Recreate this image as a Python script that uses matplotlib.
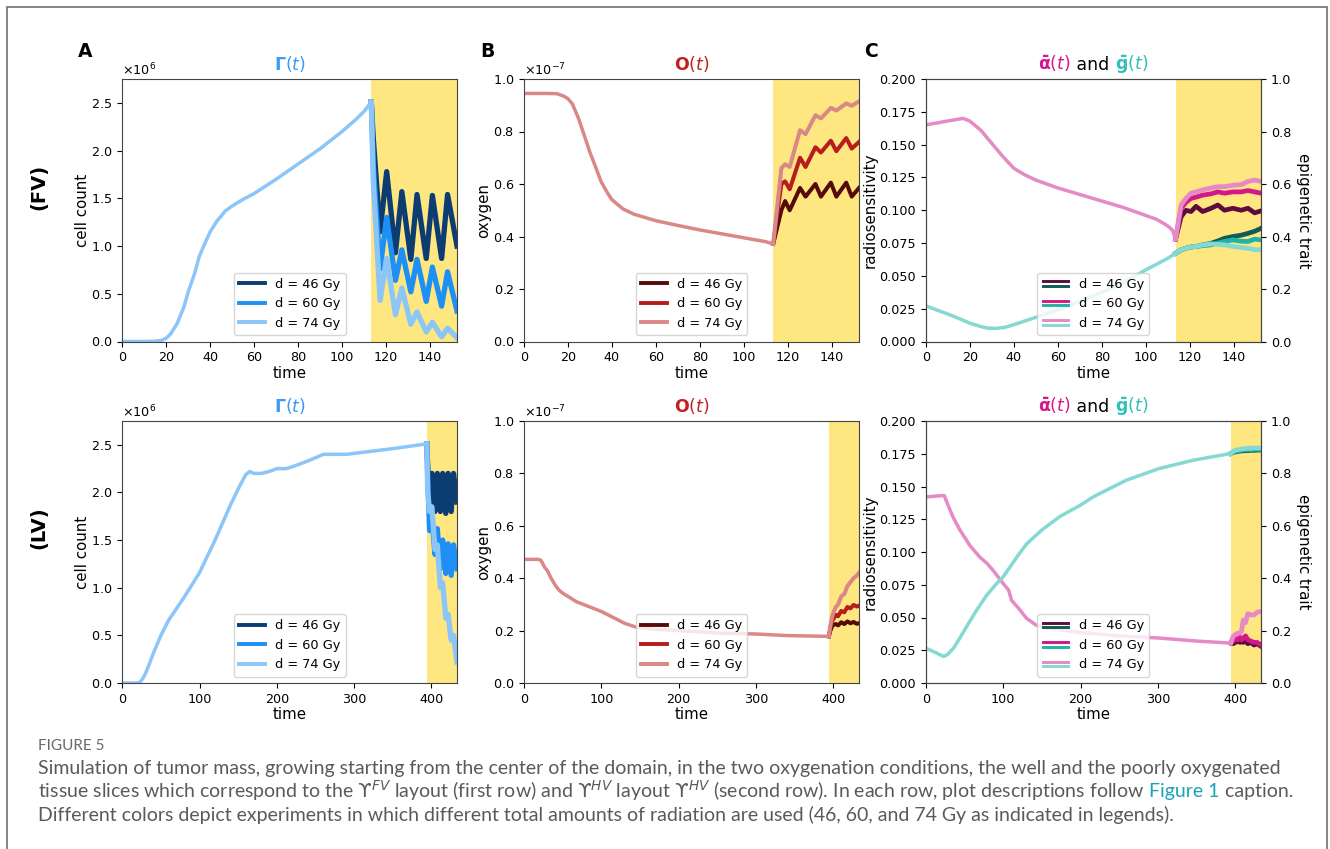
import numpy as np
import matplotlib
matplotlib.use('Agg')
import matplotlib.pyplot as plt
from matplotlib.lines import Line2D
from matplotlib.patches import Rectangle
from matplotlib.legend_handler import HandlerBase

# ---- data ----
DOSE_LABELS = ['d = 46 Gy', 'd = 60 Gy', 'd = 74 Gy']

# row 1 (FV): tumour cell count, x 1e6
FV_T_PRE = [0, 10, 15, 18, 20, 22, 25, 28, 30, 33, 35, 38, 40, 43, 47, 50, 55, 60,
            70, 80, 90, 100, 106, 110, 113.3]
FV_GAMMA_PRE = [0, 0, 0.003, 0.012, 0.035, 0.08, 0.19, 0.36, 0.52, 0.72, 0.89, 1.05,
                1.15, 1.26, 1.37, 1.42, 1.49, 1.55, 1.70, 1.86, 2.02, 2.20, 2.32, 2.41, 2.51]
FV_GAMMA_T = [113.3, 114.2, 117.3, 120.3, 124.3, 127.2, 131.3, 134.1, 138.3, 141.1,
              145.3, 148.0, 152.3]
FV_GAMMA_46 = [2.51, 2.13, 1.15, 1.78, 0.93, 1.57, 0.86, 1.54, 0.87, 1.53, 0.87, 1.54, 1.00]
FV_GAMMA_60 = [2.51, 1.85, 0.76, 1.30, 0.64, 0.96, 0.52, 0.86, 0.42, 0.78, 0.37, 0.73, 0.32]
FV_GAMMA_74 = [2.51, 1.68, 0.43, 0.87, 0.28, 0.56, 0.18, 0.31, 0.10, 0.20, 0.05, 0.14, 0.04]

# row 1 (FV): oxygen, x 1e-7
FV_OX_T_PRE = [0, 10, 15, 18, 20, 22, 25, 28, 30, 33, 35, 38, 40, 45, 50, 60, 70, 80,
               90, 100, 110, 113.3]
FV_OX_PRE = [0.945, 0.945, 0.944, 0.935, 0.925, 0.905, 0.845, 0.77, 0.72, 0.655, 0.61,
             0.565, 0.54, 0.505, 0.485, 0.46, 0.442, 0.425, 0.41, 0.395, 0.38, 0.372]
FV_OX_T = [113.3, 117.0, 118.7, 120.8, 125.5, 128.0, 132.5, 135.0, 139.5, 142.0,
           146.5, 149.0, 152.3]
FV_OX_46 = [0.372, 0.50, 0.535, 0.50, 0.585, 0.552, 0.60, 0.552, 0.605, 0.552, 0.605, 0.552, 0.585]
FV_OX_60 = [0.372, 0.60, 0.61, 0.58, 0.70, 0.665, 0.74, 0.72, 0.765, 0.725, 0.775, 0.735, 0.76]
FV_OX_74 = [0.372, 0.66, 0.675, 0.665, 0.805, 0.79, 0.862, 0.85, 0.89, 0.88, 0.907, 0.898, 0.915]

# row 1 (FV): mean radiosensitivity and epigenetic trait
FV_AL_T_PRE = [0, 5, 10, 17, 20, 25, 30, 35, 40, 45, 50, 60, 70, 80, 90, 100, 105,
               110, 112, 113.5]
FV_AL_PRE = [0.165, 0.1665, 0.168, 0.170, 0.168, 0.161, 0.151, 0.141, 0.132, 0.127,
             0.123, 0.117, 0.112, 0.107, 0.102, 0.096, 0.093, 0.088, 0.085, 0.078]
FV_G_T_PRE = [0, 5, 10, 15, 20, 25, 28, 32, 36, 40, 50, 60, 70, 80, 90, 100, 110, 113.5]
FV_G_PRE = [0.136, 0.12, 0.105, 0.088, 0.07, 0.057, 0.051, 0.05, 0.054, 0.064, 0.092,
            0.121, 0.152, 0.188, 0.226, 0.273, 0.317, 0.336]
FV_C_T = [113.5, 116.0, 118.2, 120.5, 122.8, 125.8, 129.6, 132.7, 135.7, 139.5, 143.3,
          146.4, 149.4, 152.3]
FV_AL_46 = [0.078, 0.095, 0.100, 0.099, 0.103, 0.099, 0.1015, 0.104, 0.100, 0.1015,
            0.100, 0.1015, 0.098, 0.0995]
FV_AL_60 = [0.078, 0.1015, 0.106, 0.109, 0.110, 0.1115, 0.1125, 0.114, 0.113, 0.114,
            0.114, 0.115, 0.114, 0.113]
FV_AL_74 = [0.078, 0.104, 0.109, 0.113, 0.114, 0.1155, 0.117, 0.118, 0.118, 0.119,
            0.1195, 0.122, 0.123, 0.122]
FV_G_46 = [0.336, 0.349, 0.355, 0.36, 0.362, 0.368, 0.374, 0.383, 0.393, 0.40, 0.405,
           0.412, 0.42, 0.431]
FV_G_60 = [0.336, 0.349, 0.355, 0.36, 0.362, 0.365, 0.368, 0.375, 0.381, 0.387, 0.382,
           0.381, 0.39, 0.387]
FV_G_74 = [0.336, 0.349, 0.355, 0.36, 0.362, 0.368, 0.372, 0.37, 0.368, 0.362, 0.358,
           0.355, 0.35, 0.349]

# row 2 (LV): tumour cell count, x 1e6
LV_T_PRE = [0, 20, 23, 26, 30, 35, 40, 50, 60, 80, 100, 120, 140, 152, 160, 165, 170,
            180, 190, 200, 212, 220, 240, 260, 270, 290, 300, 350, 394]
LV_GAMMA_PRE = [0, 0, 0.01, 0.04, 0.1, 0.2, 0.31, 0.5, 0.66, 0.9, 1.16, 1.5, 1.87, 2.07,
                2.19, 2.22, 2.2, 2.2, 2.22, 2.25, 2.25, 2.27, 2.33, 2.40, 2.40, 2.40,
                2.41, 2.46, 2.51]
LV_GAMMA_T = [394, 395, 397.5, 400.5, 404.5, 407.5, 411.5, 414.5, 418.5, 421.5, 425.5,
              428.5, 433]
LV_GAMMA_46 = [2.51, 2.30, 1.85, 2.20, 1.80, 2.20, 1.80, 2.20, 1.78, 2.20, 1.80, 2.20, 1.90]
LV_GAMMA_60 = [2.51, 2.20, 1.60, 1.75, 1.35, 1.62, 1.20, 1.50, 1.15, 1.46, 1.13, 1.45, 1.20]
LV_GAMMA_74 = [2.51, 2.00, 1.80, 1.85, 1.40, 1.45, 1.00, 1.05, 0.68, 0.72, 0.45, 0.50, 0.22]

# row 2 (LV): oxygen, x 1e-7
LV_OX_T_PRE = [0, 18, 22, 27, 30, 35, 40, 45, 50, 68, 100, 130, 145, 171, 200, 253,
               300, 340, 394]
LV_OX_PRE = [0.472, 0.472, 0.468, 0.44, 0.43, 0.40, 0.375, 0.355, 0.343, 0.31, 0.273,
             0.228, 0.213, 0.205, 0.2, 0.19, 0.187, 0.181, 0.178]
LV_OX_T = [394, 396, 398, 400, 403, 406, 410, 414, 418, 422, 426, 430, 433]
LV_OX_46 = [0.178, 0.20, 0.215, 0.222, 0.225, 0.22, 0.232, 0.225, 0.235, 0.228, 0.233,
            0.226, 0.228]
LV_OX_60 = [0.178, 0.21, 0.235, 0.245, 0.26, 0.255, 0.275, 0.27, 0.29, 0.285, 0.298,
            0.292, 0.295]
LV_OX_74 = [0.178, 0.22, 0.25, 0.27, 0.29, 0.30, 0.33, 0.34, 0.37, 0.385, 0.40, 0.41, 0.42]

# row 2 (LV): mean radiosensitivity and epigenetic trait
LV_AL_T_PRE = [0, 20, 24, 28, 35, 44, 57, 70, 79, 87, 100, 107, 108.5, 111, 120, 130,
               143, 156, 199, 250, 302, 350, 394]
LV_AL_PRE = [0.142, 0.143, 0.143, 0.137, 0.127, 0.117, 0.105, 0.096, 0.0914, 0.086,
             0.076, 0.071, 0.068, 0.063, 0.057, 0.0495, 0.044, 0.042, 0.0386, 0.036,
             0.0343, 0.032, 0.0305]
LV_G_T_PRE = [0, 10, 23, 28, 36, 44, 53, 66, 79, 92, 100, 120, 130, 150, 173, 200, 216,
              259, 302, 345, 394]
LV_G_PRE = [0.133, 0.12, 0.1015, 0.108, 0.133, 0.171, 0.216, 0.279, 0.336, 0.381, 0.405,
            0.49, 0.53, 0.584, 0.635, 0.679, 0.71, 0.774, 0.819, 0.85, 0.876]
LV_C_T = [394, 397, 400, 403, 406, 408, 410, 413, 416, 420, 424, 428, 433]
LV_AL_46 = [0.0305, 0.030, 0.031, 0.032, 0.031, 0.033, 0.031, 0.032, 0.030, 0.031,
            0.029, 0.030, 0.028]
LV_AL_60 = [0.0305, 0.032, 0.034, 0.033, 0.035, 0.033, 0.034, 0.036, 0.033, 0.032,
            0.031, 0.031, 0.029]
LV_AL_74 = [0.0305, 0.0355, 0.037, 0.038, 0.038, 0.040, 0.048, 0.046, 0.053, 0.052,
            0.052, 0.054, 0.0546]
LV_G_46 = [0.876, 0.88, 0.882, 0.884, 0.885, 0.886, 0.886, 0.887, 0.887, 0.888, 0.888,
           0.889, 0.889]
LV_G_60 = [0.876, 0.882, 0.885, 0.887, 0.888, 0.889, 0.89, 0.89, 0.891, 0.891, 0.892,
           0.892, 0.892]
LV_G_74 = [0.876, 0.884, 0.888, 0.89, 0.892, 0.893, 0.894, 0.895, 0.896, 0.896, 0.897,
           0.897, 0.897]

CAPTION_HEAD = 'FIGURE 5'
CAPTION_1 = ('Simulation of tumor mass, growing starting from the center of the domain, '
             'in the two oxygenation conditions, the well and the poorly oxygenated')
CAPTION_2 = ('tissue slices which correspond to the $\\mathrm{ϒ}^{FV}$ layout (first row) '
             'and $\\mathrm{ϒ}^{HV}$ layout $\\mathrm{ϒ}^{HV}$ (second row). In each row, '
             'plot descriptions follow')
CAPTION_LINK = ' Figure 1'
CAPTION_2_END = ' caption.'
CAPTION_3 = ('Different colors depict experiments in which different total amounts of '
             'radiation are used (46, 60, and 74 Gy as indicated in legends).')

# ---- styles ----
GAMMA_COLORS = ['#0b3d73', '#1e8ff5', '#8cc5f7']
OX_COLORS = ['#560b0b', '#b81c1c', '#d98886']
AL_COLORS = ['#5c0b3e', '#d3188b', '#e58ac6']
G_COLORS = ['#0c5d55', '#1fb3a8', '#86d8d3']
YELLOW = '#fee681'
PRE_LW = 2.5
TX_LW = 3.4

W, H = 1330, 849

plt.rcParams['font.family'] = 'DejaVu Sans'
plt.rcParams['xtick.labelsize'] = 9.2
plt.rcParams['ytick.labelsize'] = 9.2
plt.rcParams['axes.labelsize'] = 10.8
plt.rcParams['legend.fontsize'] = 9.3
plt.rcParams['axes.edgecolor'] = '#444444'
plt.rcParams['axes.labelpad'] = 1.0


def px_rect(left, top, right, bottom):
    return [left / W, 1 - bottom / H, (right - left) / W, (bottom - top) / H]


class DoubleLineHandler(HandlerBase):
    def create_artists(self, legend, orig_handle, xdescent, ydescent, width, height,
                       fontsize, trans):
        top_c, bot_c = orig_handle
        y = height / 2 - ydescent
        xs = [-xdescent, width - xdescent]
        return [Line2D(xs, [y + 1.6, y + 1.6], color=top_c, lw=2.1, transform=trans),
                Line2D(xs, [y - 1.6, y - 1.6], color=bot_c, lw=2.1, transform=trans)]


def run_text(fig, x, y, pieces, center=False, **kw):
    # draw coloured pieces one after the other on a common baseline (pixels)
    r = fig.canvas.get_renderer()
    texts = [fig.text(0, 1 - y / H, s, color=c, va='baseline', **kw) for s, c in pieces]
    widths = [t.get_window_extent(r).width for t in texts]
    x0 = x - sum(widths) / 2 if center else x
    for t, w in zip(texts, widths):
        t.set_x(x0 / W)
        x0 += w
    return texts


def style_time_axis(ax, xmax, xticks):
    ax.set_xlim(0, xmax)
    ax.set_xticks(xticks)
    ax.set_xlabel('time', labelpad=1)


def draw_gamma(ax, t_pre, v_pre, t_tx, series, span, xmax, xticks):
    ax.axvspan(span, xmax, color=YELLOW, lw=0, zorder=0)
    for vals, c in zip(series, GAMMA_COLORS):
        ax.plot(t_tx, np.array(vals) * 1e6, color=c, lw=TX_LW + 0.4)
    ax.plot(t_pre, np.array(v_pre) * 1e6, color=GAMMA_COLORS[-1], lw=PRE_LW)
    style_time_axis(ax, xmax, xticks)
    ax.set_ylim(0, 2.75e6)
    ax.set_yticks(np.arange(0, 2.51e6, 0.5e6))
    ax.ticklabel_format(axis='y', style='sci', scilimits=(0, 0), useMathText=True)
    ax.set_ylabel('cell count')
    ax.set_title(r'$\mathbf{\Gamma}(t)$', color='#3a9af2', fontsize=12.5, pad=6.5)
    handles = [Line2D([], [], color=c, lw=2.8) for c in GAMMA_COLORS]
    ax.legend(handles, DOSE_LABELS, loc='lower center')


def draw_oxygen(ax, t_pre, v_pre, t_tx, series, span, xmax, xticks):
    ax.axvspan(span, xmax, color=YELLOW, lw=0, zorder=0)
    for vals, c in zip(series, OX_COLORS):
        ax.plot(t_tx, np.array(vals) * 1e-7, color=c, lw=TX_LW - 0.5)
    ax.plot(t_pre, np.array(v_pre) * 1e-7, color=OX_COLORS[-1], lw=PRE_LW)
    style_time_axis(ax, xmax, xticks)
    ax.set_ylim(0, 1e-7)
    ax.set_yticks(np.arange(0, 1.01e-7, 0.2e-7))
    ax.ticklabel_format(axis='y', style='sci', scilimits=(0, 0), useMathText=True)
    ax.set_ylabel('oxygen')
    ax.set_title(r'$\mathbf{O}(t)$', color='#c0201f', fontsize=12.5, pad=6.5)
    handles = [Line2D([], [], color=c, lw=2.8) for c in OX_COLORS]
    ax.legend(handles, DOSE_LABELS, loc='lower center')


def draw_traits(fig, ax, t_apre, a_pre, t_gpre, g_pre, t_tx, a_series, g_series,
                span, xmax, xticks, top_px):
    ax.axvspan(span, xmax, color=YELLOW, lw=0, zorder=0)
    for vals, c in zip(a_series, AL_COLORS):
        ax.plot(t_tx, vals, color=c, lw=TX_LW)
    ax.plot(t_apre, a_pre, color=AL_COLORS[-1], lw=PRE_LW)
    style_time_axis(ax, xmax, xticks)
    ax.set_ylim(0, 0.2)
    ax.set_yticks(np.arange(0, 0.2001, 0.025))
    ax.set_ylabel('radiosensitivity')
    ax2 = ax.twinx()
    for vals, c in zip(g_series, G_COLORS):
        ax2.plot(t_tx, vals, color=c, lw=TX_LW)
    ax2.plot(t_gpre, g_pre, color=G_COLORS[-1], lw=PRE_LW)
    ax2.set_xlim(0, xmax)
    ax2.set_ylim(0, 1)
    ax2.set_yticks(np.arange(0, 1.01, 0.2))
    ax2.set_ylabel('epigenetic trait', rotation=270, labelpad=14)
    handles = list(zip(AL_COLORS, G_COLORS))
    ax2.legend(handles, DOSE_LABELS, loc='lower center',
               handler_map={tuple: DoubleLineHandler()})
    pos = ax.get_position()
    cx = (pos.x0 + pos.width / 2) * W
    run_text(fig, cx, top_px - 9,
             [(r'$\mathbf{\bar{\alpha}}(t)$', '#d6168c'), (' and ', 'black'),
              (r'$\mathbf{\bar{g}}(t)$', '#2fc0b6')], center=True, fontsize=12.5)


fig = plt.figure(figsize=(W / 100, H / 100), dpi=100)

ROW_TOPS = [79, 421]
ROW_BOTTOMS = [341.5, 683]
COLS = [(122.3, 457), (524, 859), (925.7, 1261)]

axes = [[fig.add_axes(px_rect(l, t, r, b)) for (l, r) in COLS]
        for t, b in zip(ROW_TOPS, ROW_BOTTOMS)]

fv_ticks = list(range(0, 141, 20))
lv_ticks = list(range(0, 401, 100))

draw_gamma(axes[0][0], FV_T_PRE, FV_GAMMA_PRE, FV_GAMMA_T,
           [FV_GAMMA_46, FV_GAMMA_60, FV_GAMMA_74], 113.3, 152.3, fv_ticks)
draw_oxygen(axes[0][1], FV_OX_T_PRE, FV_OX_PRE, FV_OX_T,
            [FV_OX_46, FV_OX_60, FV_OX_74], 113.3, 152.3, fv_ticks)
draw_traits(fig, axes[0][2], FV_AL_T_PRE, FV_AL_PRE, FV_G_T_PRE, FV_G_PRE, FV_C_T,
            [FV_AL_46, FV_AL_60, FV_AL_74], [FV_G_46, FV_G_60, FV_G_74],
            113.5, 152.3, fv_ticks, ROW_TOPS[0])

draw_gamma(axes[1][0], LV_T_PRE, LV_GAMMA_PRE, LV_GAMMA_T,
           [LV_GAMMA_46, LV_GAMMA_60, LV_GAMMA_74], 394, 433, lv_ticks)
draw_oxygen(axes[1][1], LV_OX_T_PRE, LV_OX_PRE, LV_OX_T,
            [LV_OX_46, LV_OX_60, LV_OX_74], 394, 433, lv_ticks)
draw_traits(fig, axes[1][2], LV_AL_T_PRE, LV_AL_PRE, LV_G_T_PRE, LV_G_PRE, LV_C_T,
            [LV_AL_46, LV_AL_60, LV_AL_74], [LV_G_46, LV_G_60, LV_G_74],
            394, 433, lv_ticks, ROW_TOPS[1])

# panel letters and row labels
for letter, x in zip('ABC', [85, 487, 871]):
    fig.text(x / W, 1 - 51.5 / H, letter, fontsize=13.5, fontweight='bold',
             ha='center', va='center')
fig.text(38.5 / W, 1 - 187 / H, '(FV)', rotation=90, fontsize=14, fontweight='bold',
         ha='center', va='center')
fig.text(38.5 / W, 1 - 528 / H, '(LV)', rotation=90, fontsize=14, fontweight='bold',
         ha='center', va='center')

# caption
cap_kw = dict(fontsize=14, family=['Lato', 'DejaVu Sans'])
gray = '#5a5a5a'
fig.text(38 / W, 1 - 750 / H, CAPTION_HEAD, color='#6a6a6a', fontsize=11,
         family=['Lato', 'DejaVu Sans'], va='baseline')
run_text(fig, 38, 774, [(CAPTION_1, gray)], **cap_kw)
run_text(fig, 38, 797.5, [(CAPTION_2, gray), (CAPTION_LINK, '#1ba3b8'),
                          (CAPTION_2_END, gray)], **cap_kw)
run_text(fig, 38, 821, [(CAPTION_3, gray)], **cap_kw)

# outer frame
fig.add_artist(Rectangle((7 / W, -0.05), 1320 / W, 1.05 - 7 / H, fill=False,
                         edgecolor='#6f6f6f', lw=1.2, transform=fig.transFigure))

fig.savefig('out.png', dpi=100)
